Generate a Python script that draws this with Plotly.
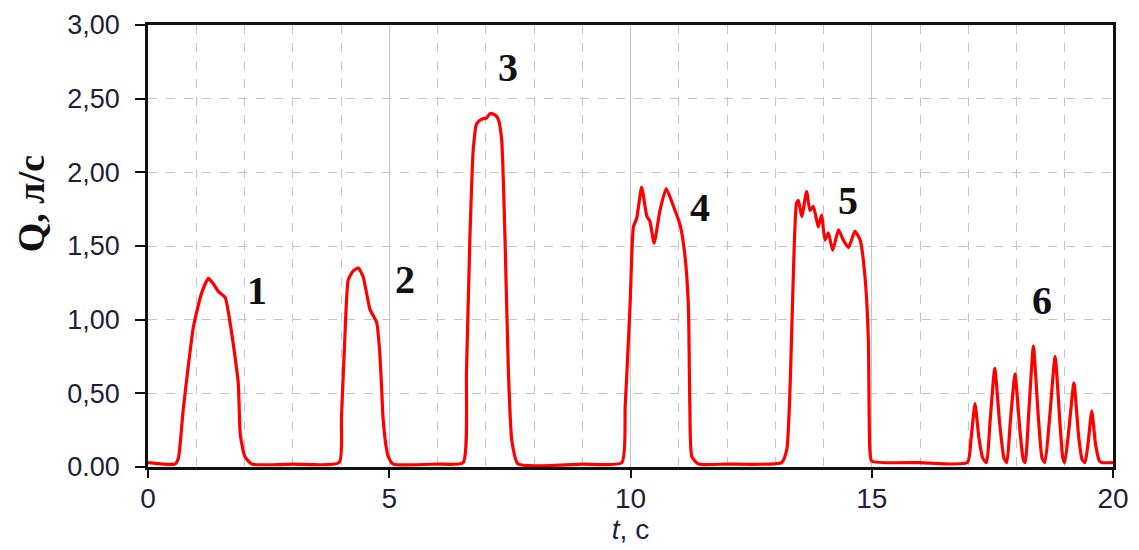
import plotly.graph_objects as go

# --- data (t in s, Q in l/s) ---
t_base0 = [0.0, 0.3, 0.56]
q_base0 = [0.03, 0.02, 0.02]

t1 = [0.63, 0.73, 0.84, 0.94, 1.0, 1.11, 1.25, 1.36, 1.46, 1.6, 1.70, 1.79, 1.87, 1.91, 1.96, 2.01, 2.15]
q1 = [0.06, 0.39, 0.70, 0.95, 1.04, 1.18, 1.28, 1.24, 1.19, 1.15, 0.98, 0.78, 0.57, 0.23, 0.13, 0.07, 0.02]

t2 = [3.96, 4.01, 4.08, 4.15, 4.25, 4.36, 4.46, 4.60, 4.74, 4.80, 4.84, 4.87, 4.93, 4.98, 5.08]
q2 = [0.03, 0.34, 0.88, 1.27, 1.33, 1.35, 1.29, 1.07, 0.98, 0.79, 0.55, 0.34, 0.15, 0.07, 0.02]

t3 = [6.53, 6.60, 6.67, 6.74, 6.81, 6.91, 7.02, 7.09, 7.19, 7.26, 7.33, 7.40, 7.47, 7.54, 7.67]
q3 = [0.03, 0.64, 1.54, 2.15, 2.33, 2.36, 2.37, 2.40, 2.39, 2.36, 2.22, 1.54, 0.64, 0.18, 0.02]

t4 = [9.82, 9.89, 9.99, 10.06, 10.13, 10.23, 10.34, 10.40, 10.49, 10.61, 10.74, 10.89, 11.03, 11.13,
      11.20, 11.23, 11.27, 11.41]
q4 = [0.03, 0.41, 1.09, 1.63, 1.69, 1.90, 1.70, 1.67, 1.52, 1.74, 1.89, 1.77, 1.64, 1.43,
      1.09, 0.41, 0.07, 0.02]

t5 = [13.13, 13.24, 13.31, 13.37, 13.44, 13.48, 13.55, 13.65, 13.72, 13.79, 13.89, 13.96, 14.03,
      14.10, 14.19, 14.31, 14.41, 14.52, 14.65, 14.76, 14.86, 14.93, 14.96, 15.0]
q5 = [0.03, 0.12, 0.57, 1.25, 1.79, 1.81, 1.70, 1.87, 1.74, 1.77, 1.63, 1.71, 1.54,
      1.59, 1.47, 1.61, 1.54, 1.49, 1.60, 1.54, 1.29, 0.86, 0.12, 0.04]

t6 = [16.98, 17.06, 17.14, 17.22, 17.30, 17.38, 17.45, 17.55, 17.65, 17.74, 17.80,
      17.87, 17.97, 18.07, 18.14, 18.18, 18.26, 18.35, 18.45, 18.53, 18.59,
      18.69, 18.80, 18.90, 18.96, 19.00, 19.09, 19.19, 19.29, 19.36, 19.42,
      19.49, 19.56, 19.64, 19.72, 19.77, 20.0]
q6 = [0.03, 0.20, 0.43, 0.20, 0.06, 0.03, 0.30, 0.67, 0.30, 0.06, 0.03,
      0.30, 0.63, 0.25, 0.05, 0.03, 0.40, 0.82, 0.35, 0.06, 0.03,
      0.35, 0.75, 0.30, 0.06, 0.03, 0.27, 0.57, 0.20, 0.05, 0.03,
      0.18, 0.38, 0.15, 0.04, 0.03, 0.03]

label_text = ["1", "2", "3", "4", "5", "6"]
label_t = [2.26, 5.33, 7.46, 11.44, 14.51, 18.53]
label_q = [1.20, 1.27, 2.71, 1.76, 1.81, 1.13]

y_ticks = [0, 0.5, 1.0, 1.5, 2.0, 2.5, 3.0]
y_tick_text = ["0.00", "0,50", "1,00", "1,50", "2,00", "2,50", "3,00"]
x_ticks = [0, 5, 10, 15, 20]

t_all = t_base0 + t1 + [3.0] + t2 + [6.0] + t3 + [9.0] + t4 + [12.0] + t5 + [16.0] + t6
q_all = q_base0 + q1 + [0.02] + q2 + [0.02] + q3 + [0.02] + q4 + [0.02] + q5 + [0.03] + q6

fig = go.Figure()
fig.add_trace(go.Scatter(x=t_all, y=q_all, mode="lines",
                         line=dict(color="#ff0000", width=3.2, shape="spline", smoothing=0.5),
                         showlegend=False, hoverinfo="skip"))

for txt, tx, qy in zip(label_text, label_t, label_q):
    fig.add_annotation(x=tx, y=qy, text="<b>%s</b>" % txt, showarrow=False,
                       font=dict(family="Liberation Serif, Times New Roman, serif", size=40, color="#111111"))

# y-axis title (placed slightly above centre, as in the reference)
fig.add_annotation(xref="paper", yref="paper", x=-0.121, y=0.595, text="<b>Q, л/с</b>",
                   textangle=-90, showarrow=False, xanchor="center", yanchor="middle",
                   font=dict(family="Liberation Serif, Times New Roman, serif", size=38, color="#111111"))

# page has an 8px body margin, so the figure is drawn 8px smaller and offset
fig.update_layout(
    width=1131, height=542,
    margin=dict(l=140, r=26, t=17, b=83),
    paper_bgcolor="white", plot_bgcolor="white",
    xaxis=dict(range=[0, 20], tickvals=x_ticks, ticks="outside", ticklen=8, tickwidth=2,
               tickcolor="#111", showline=True, linecolor="#111", linewidth=2.5, mirror=True,
               showgrid=True, gridcolor="#c4c4c4", gridwidth=1, griddash="solid",
               minor=dict(dtick=1, showgrid=True, gridcolor="#c4c4c4", griddash="dash", gridwidth=1),
               zeroline=False, automargin=False, ticklabelstandoff=-3,
               tickfont=dict(family="Liberation Sans Narrow, Arial Narrow, Liberation Sans, Arial", size=28, color="#1e1e3c"),
               title=dict(text="<i>t</i>, c", standoff=0,
                          font=dict(family="Liberation Sans, Arial", size=28, color="#1e1e3c"))),
    yaxis=dict(range=[0, 3], tickvals=y_ticks, ticktext=y_tick_text, ticks="outside", ticklen=10,
               tickwidth=2, tickcolor="#111", showline=True, linecolor="#111", linewidth=2.5, mirror=True,
               showgrid=True, gridcolor="#c4c4c4", gridwidth=1, griddash="dash", zeroline=False,
               automargin=False, ticklabelstandoff=10,
               tickfont=dict(family="Liberation Sans, Arial", size=27, color="#1e1e3c")),
)

fig.write_html("out.html")
